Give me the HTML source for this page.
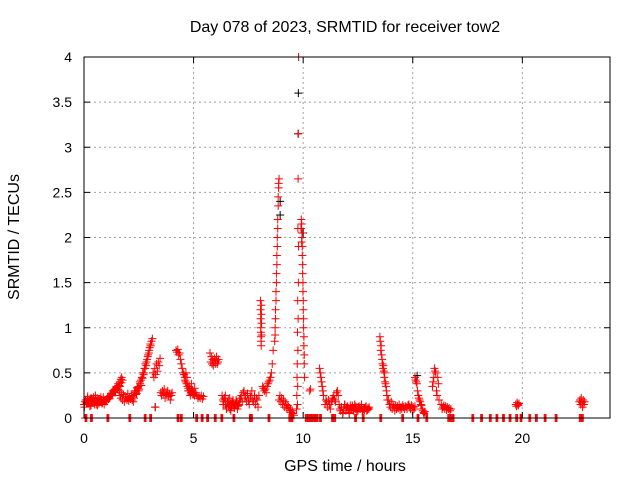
<!DOCTYPE html>
<html><head><meta charset="utf-8"><style>
body{margin:0;background:#fff}
svg{font-family:"Liberation Sans",sans-serif;font-size:14px}
.big{font-size:16px}
</style></head><body>
<svg id="chart" width="640" height="480" viewBox="0 0 640 480">
<rect width="640" height="480" fill="#fff"/>
<g id="grid"></g>
<g id="pts"></g>
<rect x="84" y="57" width="526" height="361" fill="none" stroke="#000" stroke-width="1"/>
<g id="ticks"></g>
<text class="big" x="345" y="32" text-anchor="middle">Day 078 of 2023, SRMTID for receiver tow2</text>
<text class="big" x="345" y="471" text-anchor="middle">GPS time / hours</text>
<text class="big" transform="translate(19,237) rotate(-90)" text-anchor="middle">SRMTID / TECUs</text>
</svg>
<script>
const xTicks=[0,5,10,15,20];
const yTicks=[0,0.5,1,1.5,2,2.5,3,3.5,4];
const yTickLabels=["0","0.5","1","1.5","2","2.5","3","3.5","4"];
// runs: [startTime, timeStep, values]
const runs=[
[0.0,0.04,[0.15,0.18,0.2,0.17,0.22,0.16,0.19,0.21,0.14,0.2,0.18,0.23,0.17,0.2,0.15,0.22,0.19,0.16,0.21,0.18,0.2,0.17,0.23,0.19,0.2]],
[0.02,0.05,[0.12,0.2,0.16,0.24,0.18,0.13,0.22,0.17,0.2,0.15,0.25,0.19,0.14,0.21,0.18,0.23,0.16,0.2,0.15]],
[1.0,0.04,[0.18,0.2,0.22,0.21,0.24,0.25,0.27,0.26,0.3,0.29,0.32,0.31,0.35,0.34,0.38,0.36,0.4,0.43,0.45,0.42]],
[1.05,0.06,[0.2,0.24,0.22,0.27,0.25,0.3,0.28,0.33,0.32,0.36,0.35,0.39]],
[1.6,0.04,[0.3,0.25,0.22,0.28,0.2,0.26,0.18,0.24,0.22,0.2,0.27,0.19,0.23,0.21,0.25]],
[2.2,0.04,[0.2,0.25,0.22,0.28,0.3,0.27,0.33,0.35,0.32,0.38,0.42,0.45,0.5,0.48,0.55,0.6,0.58,0.65,0.7,0.72,0.78,0.8,0.85,0.88]],
[2.25,0.06,[0.18,0.3,0.26,0.34,0.3,0.4,0.36,0.44,0.5,0.55,0.62,0.68,0.75,0.82]],
[3.15,0.04,[0.5,0.45,0.55,0.48,0.6,0.52,0.62,0.58,0.66]],
[3.25,0.1,[0.12]],
[3.5,0.04,[0.28,0.25,0.3,0.27,0.32,0.22,0.28,0.26,0.3,0.24,0.27,0.2,0.25,0.28]],
[4.2,0.04,[0.75,0.73,0.76,0.7,0.72,0.65,0.6,0.55,0.5,0.48,0.45,0.4,0.38,0.35,0.33,0.3,0.32,0.28,0.3,0.26,0.28,0.25]],
[4.6,0.05,[0.42,0.5,0.45,0.3,0.35,0.25,0.38,0.3,0.27,0.33,0.28,0.25,0.22,0.24,0.22,0.25,0.21,0.24]],
[5.75,0.03,[0.72,0.62,0.68,0.6,0.65,0.58,0.62,0.66,0.6,0.64,0.68,0.6,0.62,0.65]],
[6.3,0.04,[0.25,0.2,0.18,0.22,0.15,0.12,0.18,0.2,0.14,0.1,0.15,0.12,0.18,0.16,0.11,0.14,0.2,0.17,0.13,0.15]],
[6.35,0.05,[0.15,0.22,0.25,0.1,0.18,0.13,0.22,0.08,0.17,0.2,0.12,0.15,0.18,0.1,0.14]],
[7.1,0.04,[0.2,0.22,0.25,0.18,0.28,0.3,0.22,0.25,0.18,0.27,0.2,0.15,0.25,0.22,0.3,0.2,0.18,0.25,0.15,0.22,0.2,0.12,0.25]],
[8.05,0.005,[1.3,1.2,1.1,1.0,0.95,0.9,0.85,0.8,1.25,1.15,1.05,0.92]],
[8.15,0.04,[0.35,0.33,0.3,0.32,0.28,0.35,0.38,0.4,0.42,0.45,0.5,0.6,0.75]],
[8.7,0.02,[0.85,1.0,1.2,1.4,1.6,1.8,2.0,2.2,2.45,2.6,2.65]],
[8.72,0.02,[0.92,1.1,1.3,1.5,1.7,1.9,2.1,2.35,2.55]],
[8.9,0.04,[0.2,0.25,0.18,0.22,0.15,0.2,0.12,0.18,0.15,0.1,0.14,0.12,0.08,0.1,0.06,0.08,0.05,0.03]],
[9.7,0.01,[0.1,0.25,0.45,0.6,0.95,1.3,2.1,2.65,3.15,4.0]],
[9.74,0.01,[0.15,0.35,0.75,1.1,1.5,1.9]],
[9.9,0.015,[2.1,2.2,2.15,2.0,1.8,1.6,1.4,1.2,1.0,0.8,0.6,0.45]],
[9.93,0.015,[1.95,2.05,1.9,1.7,1.5,1.3,1.1,0.9,0.7]],
[10.3,0.03,[0.3,0.32]],
[10.75,0.03,[0.55,0.5,0.45,0.4,0.35,0.3,0.25]],
[11.0,0.04,[0.15,0.2,0.18,0.12,0.2,0.15,0.1,0.18,0.2,0.22,0.25,0.2,0.18,0.28,0.3,0.25,0.15,0.1]],
[11.7,0.05,[0.08,0.12,0.05,0.1,0.15,0.08,0.12,0.1,0.06,0.14,0.1,0.12,0.08,0.15,0.1,0.12,0.08,0.13,0.1,0.12,0.07,0.1,0.09,0.12,0.08,0.11,0.1]],
[11.75,0.07,[0.12,0.06,0.15,0.1,0.13,0.05,0.11,0.14,0.09,0.13,0.07,0.12,0.1,0.15,0.08,0.11,0.13,0.09,0.12]],
[13.5,0.02,[0.9,0.85,0.75,0.8,0.7,0.65,0.6,0.55,0.58,0.52,0.45,0.5,0.4,0.38,0.35,0.3,0.25,0.2]],
[13.9,0.04,[0.2,0.15,0.12,0.18,0.1,0.15,0.12,0.08,0.14,0.1,0.13,0.11,0.15,0.09,0.12,0.1,0.14,0.12,0.1,0.13]],
[14.7,0.04,[0.12,0.1,0.14,0.15,0.12,0.1,0.14,0.08,0.12,0.1,0.13]],
[15.1,0.03,[0.45,0.42,0.4,0.38,0.3,0.25,0.22,0.2,0.18,0.15,0.14,0.1,0.08,0.06,0.05,0.07]],
[15.9,0.03,[0.35,0.4,0.45,0.55,0.52,0.5,0.3,0.25,0.45,0.38,0.2]],
[16.3,0.04,[0.15,0.1,0.12,0.14,0.1,0.13,0.09,0.12,0.1,0.11,0.08,0.1]],
[19.7,0.03,[0.15,0.13,0.17,0.15,0.14,0.16]],
[22.6,0.03,[0.18,0.2,0.15,0.22,0.17,0.12,0.2,0.15,0.18]]
];
const zeroTimes=[0.05,0.3,1.05,2.05,2.75,3.0,4.25,4.4,5.1,5.35,5.6,5.95,6.25,6.8,7.55,7.6,8.4,9.35,9.45,10.1,10.2,10.3,10.4,10.5,10.6,10.75,11.3,11.4,12.35,12.7,13.5,14.5,15.2,15.6,16.6,16.7,16.8,17.7,18.1,18.5,18.8,19.1,19.4,19.7,19.9,20.3,20.6,21.0,21.5,22.6,22.7];
const blackPts=[[9.78,3.6],[9.77,3.15],[8.95,2.4],[8.95,2.25],[10.0,2.05],[3.25,0.12],[15.2,0.47]];
const X=t=>84+t*(526/24), Y=v=>418-v*(361/4);
const NS="http://www.w3.org/2000/svg";
const grid=document.getElementById('grid'),ticks=document.getElementById('ticks'),pts=document.getElementById('pts');
function mk(tag,a,p){const e=document.createElementNS(NS,tag);for(const k in a)e.setAttribute(k,a[k]);p.appendChild(e);return e;}
xTicks.forEach(t=>{const x=X(t);
 if(t>0){const g=mk('line',{x1:x,x2:x,y1:57,y2:418,stroke:'#a0a0a0','stroke-dasharray':'2,3'},grid);
 }
 const tk=mk('path',{d:`M${x},418v-6M${x},57v6`,stroke:'#000'},ticks);
 
 const l=mk('text',{x:x,y:443,'text-anchor':'middle'},ticks);l.textContent=t;
 });
yTicks.forEach((v,i)=>{const y=Y(v);
 if(v>0&&v<4){const g=mk('line',{x1:84,x2:610,y1:y,y2:y,stroke:'#a0a0a0','stroke-dasharray':'2,3'},grid);
 }
 const tk=mk('path',{d:`M84,${y}h6M610,${y}h-6`,stroke:'#000'},ticks);
 
 const l=mk('text',{x:72,y:y+5,'text-anchor':'end'},ticks);l.textContent=yTickLabels[i];
 });
function plus(t,v,c){const x=X(t),y=Y(v);
 const p=mk('path',{d:`M${x-4},${y}h8M${x},${y-4}v8`,stroke:c,'stroke-width':1},pts);
 
 }
blackPts.forEach(p=>plus(p[0],p[1],'#000'));
runs.forEach(r=>r[2].forEach((v,i)=>plus(r[0]+i*r[1],v,'#f00')));
zeroTimes.forEach(t=>{plus(t,0,'#f00');plus(t+0.04,0,'#f00');plus(t+0.08,0,'#f00');});
</script>
</body></html>
